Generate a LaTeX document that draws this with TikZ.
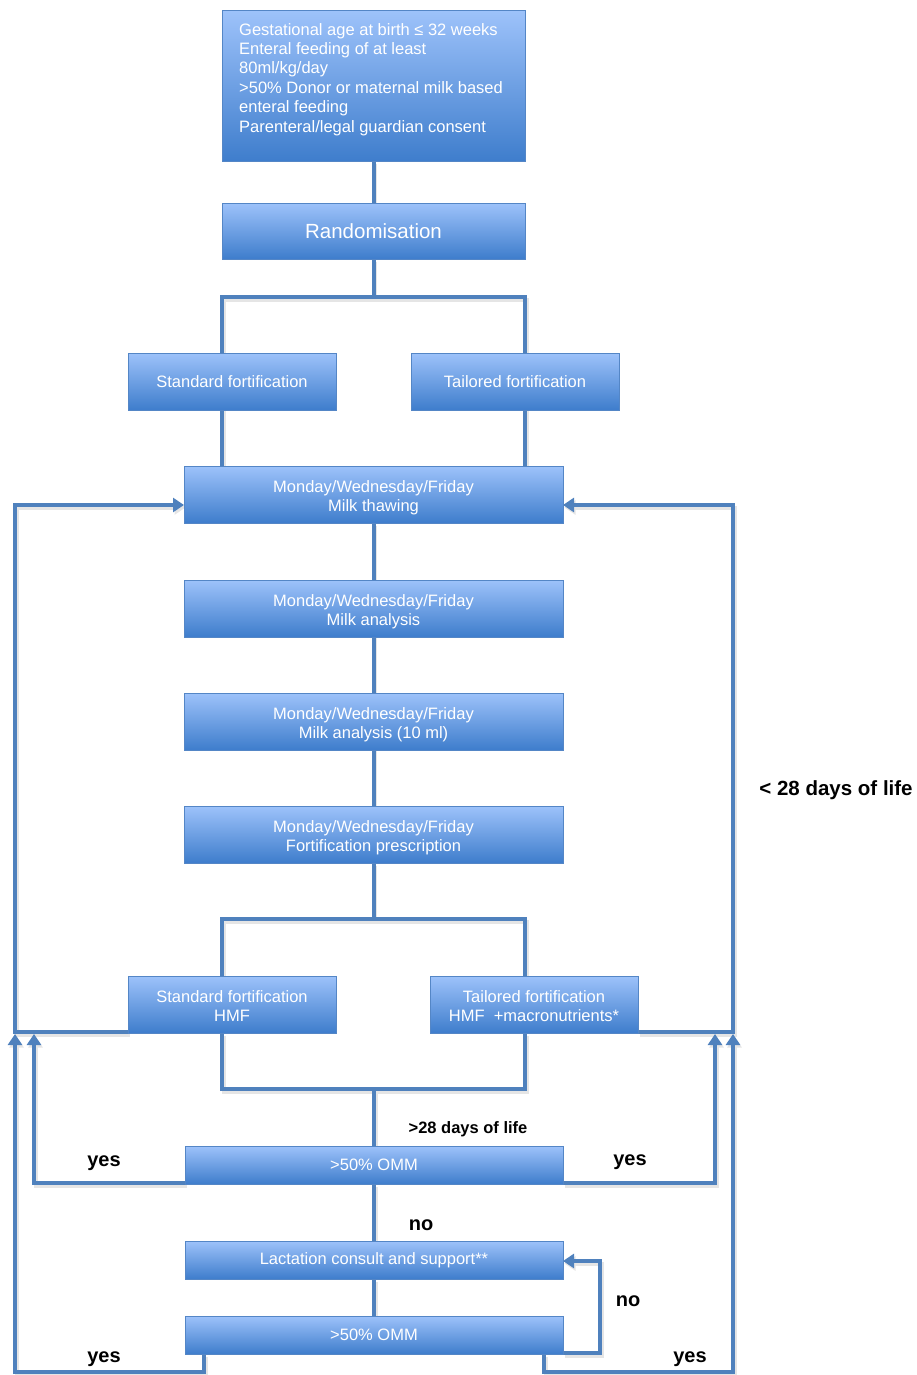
\documentclass[tikz,border=0pt]{standalone}
\usepackage{fontspec}
\setmainfont{Liberation Sans}
\usetikzlibrary{arrows.meta,backgrounds,calc}
\definecolor{lineblue}{RGB}{79,129,189}
\definecolor{boxtop}{RGB}{157,194,250}
\definecolor{boxbot}{RGB}{62,125,204}
\definecolor{boxedge}{RGB}{84,134,198}
\newcommand{\tlstrut}{\rule{0pt}{18pt}}
\newcommand{\hmfstrut}{\rule{0pt}{14.5pt}}
\begin{document}
\begin{tikzpicture}[x=1pt,y=-1pt,
  box/.style={draw=boxedge, line width=1pt, top color=boxtop, bottom color=boxbot,
    anchor=north west, inner sep=0pt, outer sep=0pt, text=white,
    font=\fontsize{16.5}{19}\selectfont, align=center},
  boxtext/.style={anchor=north west, align=left, inner sep=0pt, text=white,
    font=\fontsize{16.5}{19.4}\selectfont},
  conn/.style={draw=lineblue, line width=4pt,
    preaction={draw=black!10, line width=4pt, transform canvas={shift={(1.5pt,-2.5pt)}}}},
  arr/.style={conn, -{Triangle[length=11pt,width=14pt]}},
  lbl/.style={font=\bfseries\fontsize{20}{24}\selectfont, text=black, inner sep=0pt},
  slbl/.style={font=\bfseries\fontsize{16.5}{19}\selectfont, text=black, inner sep=0pt},
]
\useasboundingbox (0,0) rectangle (917,1375);

% boxes
\node[box, minimum width=303pt, minimum height=151pt] (elig) at (222,11) {};
\node[boxtext] (eligtxt) at (239,23) {Gestational age at birth ≤ 32 weeks\\Enteral feeding of at least\\80ml/kg/day\\>50\% Donor or maternal milk based\\enteral feeding\\Parenteral/legal guardian consent};
\node[box, minimum width=303pt, minimum height=56pt, font=\fontsize{20.5}{24}\selectfont] (rand) at (222,203) {Randomisation};
\node[box, minimum width=208pt, minimum height=57pt] (sf) at (128,353) {Standard fortification};
\node[box, minimum width=208pt, minimum height=57pt] (tf) at (411,353) {Tailored fortification};
\node[box, minimum width=379pt, minimum height=57pt] (thaw) at (184,466) {\tlstrut Monday/Wednesday/Friday\\Milk thawing};
\node[box, minimum width=379pt, minimum height=57pt] (ana1) at (184,580) {\tlstrut Monday/Wednesday/Friday\\Milk analysis};
\node[box, minimum width=379pt, minimum height=57pt] (ana2) at (184,693) {\tlstrut Monday/Wednesday/Friday\\Milk analysis (10 ml)};
\node[box, minimum width=379pt, minimum height=57pt] (presc) at (184,806) {\tlstrut Monday/Wednesday/Friday\\Fortification prescription};
\node[box, minimum width=208pt, minimum height=57pt] (hmf1) at (128,976) {\hmfstrut Standard fortification\\HMF};
\node[box, minimum width=208pt, minimum height=57pt] (hmf2) at (430,976) {\hmfstrut Tailored fortification\\HMF\ \ +macronutrients*};
\node[box, minimum width=378pt, minimum height=38pt] (omm1) at (185,1146) {>50\% OMM};
\node[box, minimum width=378pt, minimum height=38pt] (lact) at (185,1241) {Lactation consult and support**};
\node[box, minimum width=378pt, minimum height=38pt] (omm2) at (185,1316) {>50\% OMM};

% labels
\node[lbl, font=\bfseries\fontsize{20.5}{24}\selectfont] (l28) at (836,790) {< 28 days of life};
\node[slbl] (g28) at (468,1129) {>28 days of life};
\node[lbl] (yes1) at (104,1163) {yes};
\node[lbl] (yes2) at (630,1162) {yes};
\node[lbl] (no1) at (421,1225) {no};
\node[lbl] (no2) at (628,1301) {no};
\node[lbl] (yes3) at (104,1359) {yes};
\node[lbl] (yes4) at (690,1359) {yes};

% connectors
\begin{scope}[on background layer]
\draw[conn] (elig.south) -- (rand.north);
\draw[conn] (rand.west |- thaw.north) -- (rand.west |- 0,297) -- (rand.east |- 0,297) -- (rand.east |- thaw.north)
  (rand.south) -- (rand.south |- 0,297);
\draw[conn] (thaw.south) -- (presc.north);
\draw[conn] (rand.west |- hmf1.north) -- (rand.west |- 0,919) -- (rand.east |- 0,919) -- (rand.east |- hmf2.north)
  (presc.south) -- (presc.south |- 0,919);
\draw[conn] (rand.west |- hmf1.south) -- (rand.west |- 0,1089) -- (rand.east |- 0,1089) -- (rand.east |- hmf2.south)
  (omm1.north |- 0,1089) -- (omm1.north);
\draw[conn] (omm1.south) -- (lact.north);
\draw[conn] (lact.south) -- (omm2.north);
% < 28 days loops
\draw[arr] (hmf1.west |- 0,1032) -- (15,1032) -- (15,505) -- (thaw.west |- 0,505);
\draw[arr] (hmf2.east |- 0,1032) -- (733,1032) -- (733,505) -- (thaw.east |- 0,505);
% yes from first OMM
\draw[arr] (omm1.west |- 0,1183) -- (34,1183) -- (34,1034);
\draw[arr] (omm1.east |- 0,1183) -- (715,1183) -- (715,1034);
% yes from second OMM
\draw[arr] (omm2.south -| 204,0) -- (204,1372) -- (15,1372) -- (15,1034);
\draw[arr] (omm2.south -| 544,0) -- (544,1372) -- (733,1372) -- (733,1034);
% no loop
\draw[arr] (omm2.east |- 0,1353) -- (600,1353) -- (600,1261) -- (lact.east |- 0,1261);
\end{scope}
\end{tikzpicture}
\end{document}
